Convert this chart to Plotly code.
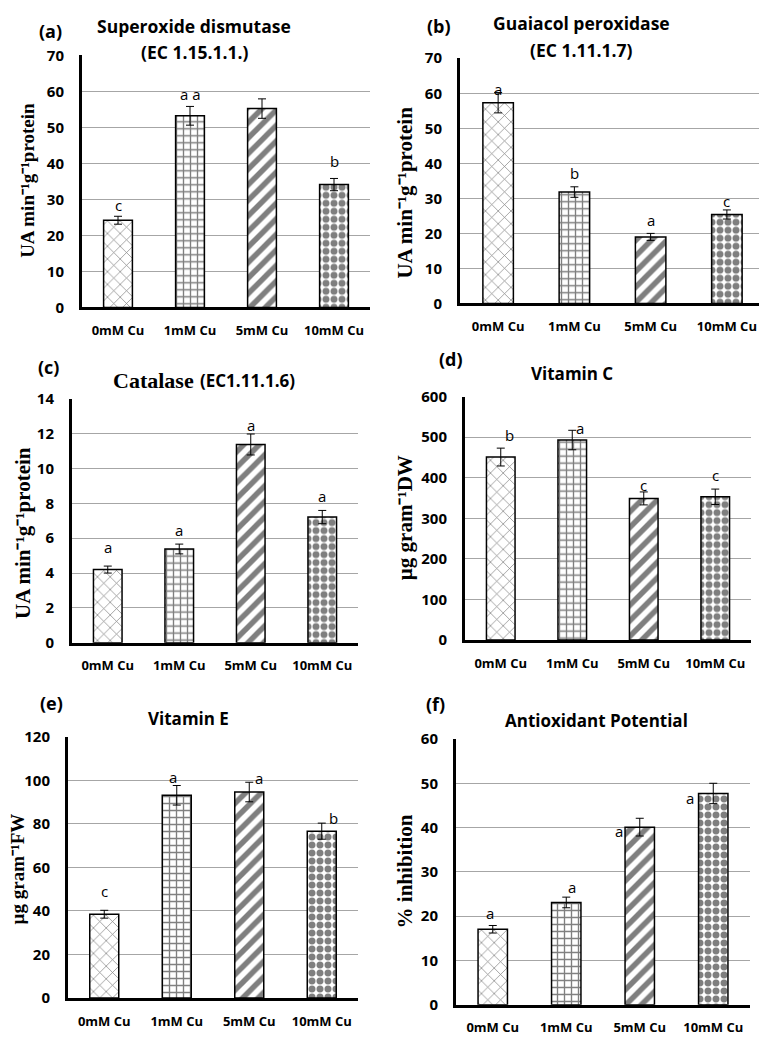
import plotly.graph_objects as go

W, H = 767, 1047
OFF = 8  # page body margin in the browser

categories = ["0mM Cu", "1mM Cu", "5mM Cu", "10mM Cu"]

sod_values = [24.2, 53.2, 55.2, 34.1]
sod_err = [1.1, 2.6, 2.7, 1.7]
sod_letters = ["c", "a a", "", "b"]

gpx_values = [57.3, 31.8, 19.0, 25.4]
gpx_err = [2.9, 1.5, 1.0, 1.3]
gpx_letters = ["a", "b", "a", "c"]

cat_values = [4.2, 5.38, 11.37, 7.21]
cat_err = [0.2, 0.28, 0.6, 0.38]
cat_letters = ["a", "a", "a", "a"]

vitc_values = [451, 493, 349, 353]
vitc_err = [22, 24, 16, 19]
vitc_letters = ["b", "a", "c", "c"]

vite_values = [38.5, 93.2, 94.7, 76.7]
vite_err = [1.8, 4.5, 4.5, 3.7]
vite_letters = ["c", "a", "a", "b"]

aox_values = [17.05, 23.1, 40.1, 47.7]
aox_err = [0.85, 1.2, 2.0, 2.3]
aox_letters = ["a", "a", "a", "a"]

SANS = "Open Sans"
SERIF = "Liberation Serif"


def px_x(x):
    return (x - OFF) / W


def px_y(y):
    return 1 - (y - OFF) / H


patterns = [
    dict(shape="x", size=9, solidity=0.15, fgcolor="black", bgcolor="white"),
    dict(shape="+", size=7, solidity=0.35, fgcolor="black", bgcolor="white"),
    dict(shape="/", size=11, solidity=0.5, fgcolor="black", bgcolor="white"),
    dict(shape=".", size=8, solidity=0.6, fgcolor="black", bgcolor="white"),
]

UA = "UA min⁻¹g⁻¹protein"

panels = [
    dict(vals=sod_values, err=sod_err, letters=sod_letters, ymax=70, dtick=10,
         px=(82, 370), py=(45, 302),
         offs=[(0, 11), (0, 12), (0, 0), (0, 17)],
         ytitle=UA, ytpos=(28, 173), ytsize=19),
    dict(vals=gpx_values, err=gpx_err, letters=gpx_letters, ymax=70, dtick=10,
         px=(460, 765), py=(48, 298),
         offs=[(0, 4), (0, 14), (0, 13), (0, 9)],
         ytitle=UA, ytpos=(405, 185), ytsize=21),
    dict(vals=cat_values, err=cat_err, letters=cat_letters, ymax=14, dtick=2,
         px=(72, 358), py=(395, 644),
         offs=[(0, 19), (0, 14), (0, 9), (0, 14)],
         ytitle=UA, ytpos=(23, 532), ytsize=21),
    dict(vals=vitc_values, err=vitc_err, letters=vitc_letters, ymax=600, dtick=100,
         px=(465, 751), py=(393, 641),
         offs=[(9, 13), (8, 2), (0, 7), (0, 14)],
         ytitle="µg gram⁻¹DW", ytpos=(405, 517), ytsize=21),
    dict(vals=vite_values, err=vite_err, letters=vite_letters, ymax=120, dtick=20,
         px=(68, 358), py=(740, 1006),
         offs=[(0, 19), (-4, 9), (10, 4), (12, 5)],
         ytitle="µg gram⁻¹FW", ytpos=(17, 875), ytsize=19),
    dict(vals=aox_values, err=aox_err, letters=aox_letters, ymax=60, dtick=10,
         px=(456, 750), py=(742, 1013),
         offs=[(-3, 12), (6, 10), (-21, -13), (-23, -15)],
         ytitle="% inhibition", ytpos=(405, 877), ytsize=21),
]

fig = go.Figure()
annotations = []
layout = {}

for i, p in enumerate(panels):
    n = "" if i == 0 else str(i + 1)
    xa, ya = "x" + n, "y" + n
    for j, cat in enumerate(categories):
        fig.add_trace(go.Bar(
            x=[cat], y=[p["vals"][j]], xaxis=xa, yaxis=ya,
            width=0.4,
            marker=dict(color="white", line=dict(color="black", width=1.5),
                        pattern=patterns[j]),
            error_y=dict(type="data", array=[p["err"][j]], color="black",
                         thickness=1, width=4),
            showlegend=False, hoverinfo="skip",
        ))
        if p["letters"][j]:
            dx, dy = p["offs"][j]
            annotations.append(dict(
                x=cat, y=p["vals"][j] + p["err"][j], xref=xa, yref=ya,
                text=p["letters"][j], showarrow=False, xanchor="center",
                yanchor="middle", xshift=dx, yshift=dy,
                font=dict(family=SANS, size=15, color="black")))
    x0, x1 = p["px"]
    t, b = p["py"]
    layout["xaxis" + n] = dict(
        domain=[px_x(x0), px_x(x1)], anchor=ya, type="category",
        categoryorder="array", categoryarray=categories, range=[-0.5, 3.5],
        showline=True, linewidth=3, linecolor="black", ticks="",
        showgrid=False, zeroline=False, ticklabelstandoff=9,
        tickfont=dict(family=SANS, size=13, color="black", weight=700))
    layout["yaxis" + n] = dict(
        domain=[px_y(b), px_y(t)], anchor=xa, range=[0, p["ymax"]],
        dtick=p["dtick"], tick0=0, showline=True, linewidth=3, linecolor="black",
        ticks="", showgrid=True, gridcolor="#a6a6a6", gridwidth=1, zeroline=False,
        ticklabelstandoff=12,
        tickfont=dict(family=SANS, size=15, color="black", weight=700))
    tx, ty = p["ytpos"]
    annotations.append(dict(
        x=px_x(tx), y=px_y(ty), xref="paper", yref="paper", text=p["ytitle"],
        textangle=-90, showarrow=False, xanchor="center", yanchor="middle",
        font=dict(family=SERIF, size=p["ytsize"], color="black", weight=700)))

titles = [
    ("(a)", 50, 20, 18, SANS, "center"),
    ("Superoxide dismutase", 194, 15, 17.5, SANS, "center"),
    ("(EC 1.15.1.1.)", 194, 42, 17.5, SANS, "center"),
    ("(b)", 439, 15, 18, SANS, "center"),
    ("Guaiacol peroxidase", 581, 12, 17.5, SANS, "center"),
    ("(EC 1.11.1.7)", 581, 40, 17.5, SANS, "center"),
    ("(c)", 48, 363, 18, SANS, "center"),
    ("Catalase", 196, 377, 22, SERIF, "right"),
    ("(EC1.11.1.6)", 198, 377, 17, SANS, "left"),
    ("(d)", 451, 355, 18, SANS, "center"),
    ("Vitamin C", 572, 369, 17, SANS, "center"),
    ("(e)", 51, 705, 18, SANS, "center"),
    ("Vitamin E", 188, 721, 17, SANS, "center"),
    ("(f)", 435, 706, 18, SANS, "center"),
    ("Antioxidant Potential", 596, 723, 17, SANS, "center"),
]
for text, x, y, size, fam, anc in titles:
    annotations.append(dict(
        x=px_x(x), y=px_y(y), xref="paper", yref="paper", text=text,
        showarrow=False, xanchor=anc, yanchor="middle",
        font=dict(family=fam, size=size, color="black", weight=700)))

fig.update_layout(
    width=W, height=H, margin=dict(l=0, r=0, t=0, b=0),
    paper_bgcolor="white", plot_bgcolor="white", showlegend=False,
    bargap=0.6, annotations=annotations, **layout)

fig.write_html("out.html")
